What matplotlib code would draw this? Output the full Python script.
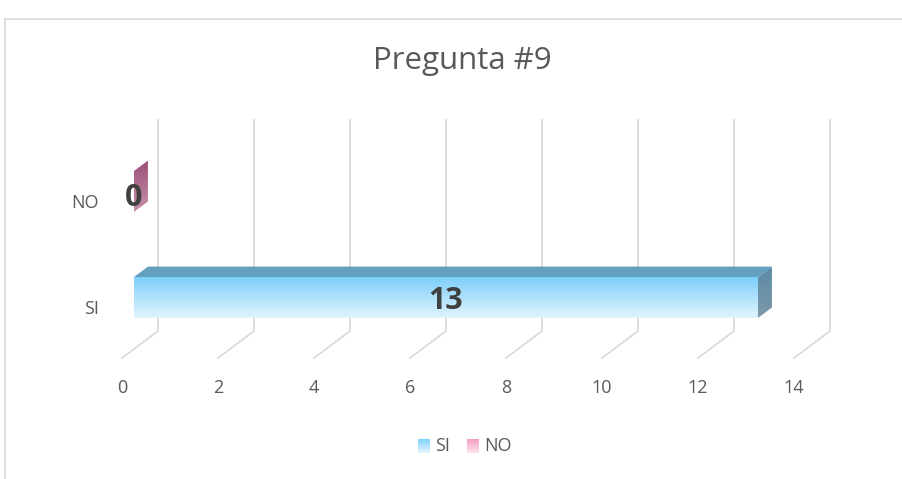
import matplotlib.pyplot as plt
import numpy as np
from matplotlib.patches import Polygon, Rectangle
from matplotlib.colors import LinearSegmentedColormap

plt.rcParams["font.family"] = ["Open Sans", "DejaVu Sans"]

categories = ["SI", "NO"]
values = [13, 0]
xticks = [0, 2, 4, 6, 8, 10, 12, 14]

front_cols = [("#7dcffb", "#e2f4fe"), ("#f49bc0", "#fde3ee")]
side_cols = [("#5b8aa6", "#7d9aab"), ("#9c5079", "#c68fab")]
top_cols = ["#64a1c1", "#8c4a6e"]

# pseudo 3d geometry (value units on x, category units on y)
DX, DY = 0.75, 0.255
D0, D1 = 1 / 3, 0.72
HALF = 0.193
FLOOR, WALL_TOP = -0.486, 1.504

fig = plt.figure(figsize=(9.02, 4.79), dpi=100)
ax = fig.add_axes([0, 0, 1, 1])
ax.set_xlim(-122 / 48, (902 - 122) / 48)
ax.set_ylim(-(479 - 306.5) / 106, 306.5 / 106)
ax.axis("off")

# chart border
fig.patches.append(Rectangle((5 / 902, -0.01), 1.0, 1 - 14 / 479, transform=fig.transFigure,
                             fill=False, edgecolor="#d9d9d9", linewidth=1.2))


def proj(v, c, d):
    return v + d * DX, c + d * DY


grid = "#dadada"
for t in xticks:
    bx, by = proj(t, FLOOR, 1)
    ax.plot([bx, bx], [by, WALL_TOP + DY], color=grid, lw=1.3, zorder=1)
    fx, fy = proj(t, FLOOR, 0)
    ax.plot([fx, bx], [fy, by], color=grid, lw=1.3, zorder=1)
    ax.text(fx, fy - 30 / 106, str(t), ha="center", va="center", fontsize=13, color="#595959")

for c, lab in enumerate(categories):
    ax.text(-21 / 48 - 0.05, c - 0.02, lab, ha="right", va="center", fontsize=13, color="#595959")


def gradient_poly(pts, c1, c2, z):
    poly = Polygon(pts, closed=True, facecolor="none", edgecolor="none", zorder=z)
    ax.add_patch(poly)
    xs = [p[0] for p in pts]
    ys = [p[1] for p in pts]
    cmap = LinearSegmentedColormap.from_list("g", [c2, c1])
    im = ax.imshow(np.linspace(0, 1, 100).reshape(-1, 1), cmap=cmap, aspect="auto",
                   extent=[min(xs), max(xs), min(ys), max(ys)], origin="lower", zorder=z)
    im.set_clip_path(poly)


for i, v in enumerate(values):
    lo, hi = i - HALF, i + HALF
    if v > 0:
        # front face
        f = [proj(0, lo, D0), proj(v, lo, D0), proj(v, hi, D0), proj(0, hi, D0)]
        gradient_poly(f, front_cols[i][0], front_cols[i][1], 3)
        # top face
        t = [proj(0, hi, D0), proj(v, hi, D0), proj(v, hi, D1), proj(0, hi, D1)]
        ax.add_patch(Polygon(t, closed=True, facecolor=top_cols[i], edgecolor="none", zorder=3))
    # end face
    s = [proj(v, lo, D0), proj(v, lo, D1), proj(v, hi, D1), proj(v, hi, D0)]
    gradient_poly(s, side_cols[i][0], side_cols[i][1], 3)
    if v > 0:
        lx, ly = proj(v / 2, i, D0)
        ly -= 0.035
    else:
        lx, ly = proj(v, i, D0)
        ly -= 0.06
    ax.text(lx, ly, str(v), ha="center", va="center", fontsize=22, fontweight="bold",
            color="#404040", zorder=5)

ax.text(462 / 902, 1 - 61 / 479, "Pregunta #9", transform=fig.transFigure, ha="center",
        va="center", fontsize=22.5, color="#595959")

# legend
lx = [418, 467]
for i, lab in enumerate(categories):
    x0 = lx[i] / 902
    y0 = 1 - 453 / 479
    cmap = LinearSegmentedColormap.from_list("l", [front_cols[i][1], front_cols[i][0]])
    lax = fig.add_axes([x0, y0, 12 / 902, 14 / 479])
    lax.imshow(np.linspace(0, 1, 20).reshape(-1, 1), cmap=cmap, aspect="auto", origin="lower")
    lax.axis("off")
    fig.text(x0 + 17 / 902, 1 - 446 / 479, lab, ha="left", va="center", fontsize=13,
             color="#595959")

fig.savefig("out.png", dpi=100, facecolor="white")
